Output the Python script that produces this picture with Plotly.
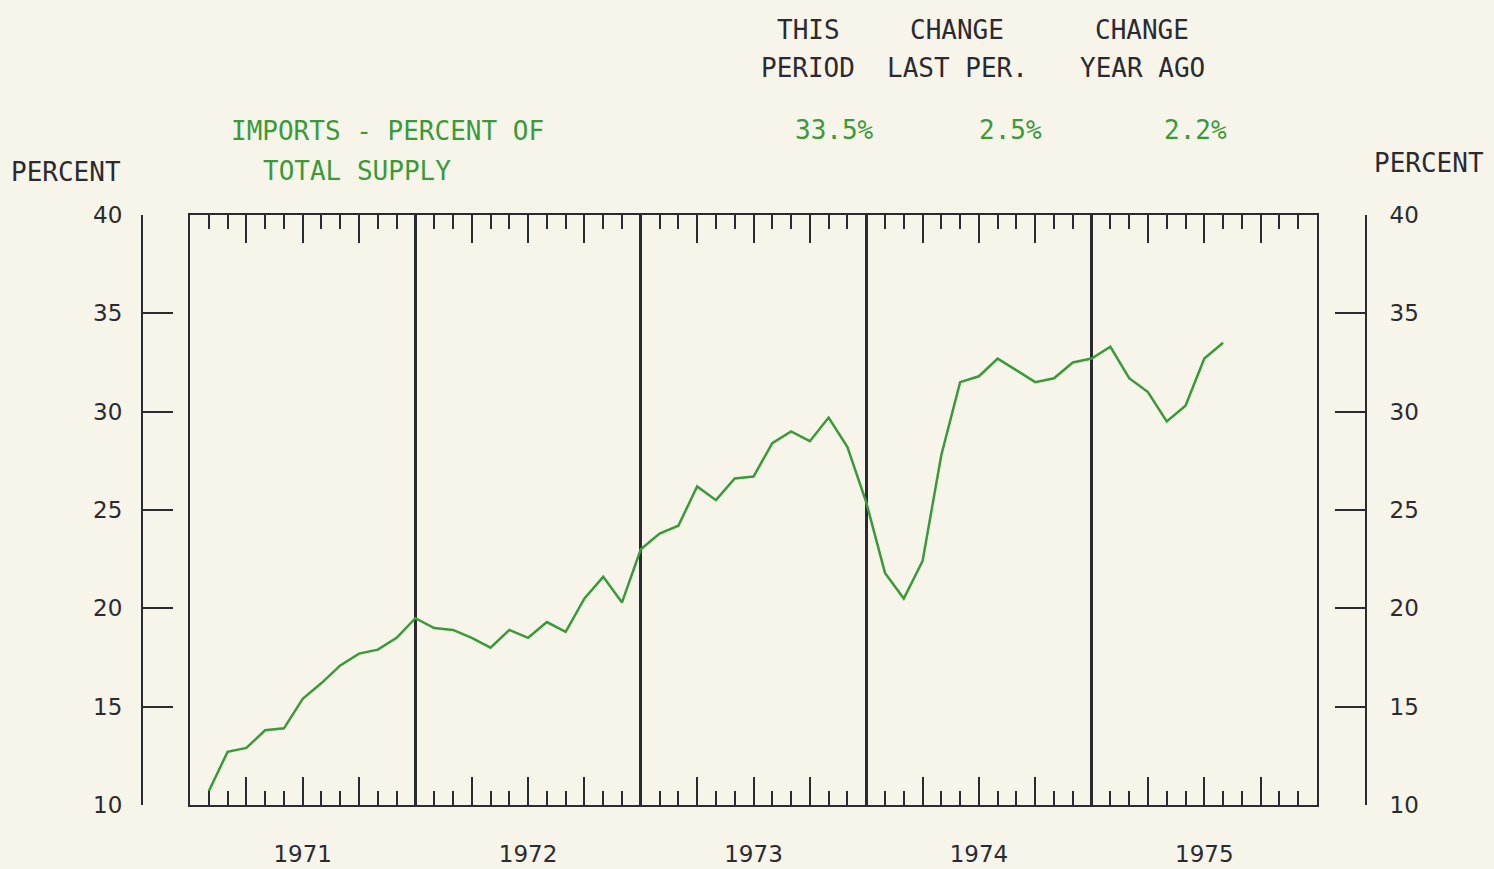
import plotly.graph_objects as go

# monthly imports as percent of total supply, Jan 1971 - Jul 1975
years = ["1971", "1972", "1973", "1974", "1975"]
v1971 = [10.7, 12.7, 12.9, 13.8, 13.9, 15.4, 16.2, 17.1, 17.7, 17.9, 18.5, 19.5]
v1972 = [19.0, 18.9, 18.5, 18.0, 18.9, 18.5, 19.3, 18.8, 20.5, 21.6, 20.3, 23.0]
v1973 = [23.8, 24.2, 26.2, 25.5, 26.6, 26.7, 28.4, 29.0, 28.5, 29.7, 28.2, 25.4]
v1974 = [21.8, 20.5, 22.4, 27.8, 31.5, 31.8, 32.7, 32.1, 31.5, 31.7, 32.5, 32.7]
v1975 = [33.3, 31.7, 31.0, 29.5, 30.3, 32.7, 33.5]

header_top = ["THIS", "CHANGE", "CHANGE"]
header_bot = ["PERIOD", "LAST PER.", "YEAR AGO"]
summary = ["33.5%", "2.5%", "2.2%"]

values = v1971 + v1972 + v1973 + v1974 + v1975
months = list(range(1, len(values) + 1))  # plotted at month end

W, H = 1494, 869
ML, MR, MT, MB = 100, 100, 215, 64
PW, PH = W - ML - MR, H - MT - MB
BG = "#f7f5ea"
INK = "#2b2a30"
GREEN = "#3a9a3a"
MONO = "DejaVu Sans Mono"


def px(x):
    return (x - ML) / PW


def py(y):
    return (H - MB - y) / PH


fig = go.Figure()
fig.add_trace(go.Scatter(x=months, y=values, mode="lines",
                         line=dict(color=GREEN, width=2.5),
                         showlegend=False, hoverinfo="x+y"))

dom = [px(190), px(1317)]
xr = [0, 60]
year_mid = [6 + 12 * i for i in range(len(years))]
num_font = dict(family="DejaVu Sans", size=23, color=INK)

month_ticks = dict(showgrid=False, zeroline=False, showticklabels=False,
                   tickmode="linear", tick0=0, dtick=3, ticks="inside",
                   ticklen=28, tickwidth=2, tickcolor=INK, automargin=False,
                   minor=dict(dtick=1, tick0=0, ticks="inside", ticklen=14,
                              tickwidth=2, tickcolor=INK))

fig.update_layout(
    width=W, height=H,
    margin=dict(l=ML, r=MR, t=MT, b=MB),
    paper_bgcolor=BG, plot_bgcolor=BG,
    xaxis=dict(domain=dom, range=xr, showgrid=False, zeroline=False,
               showline=True, linecolor=INK, linewidth=2, mirror=True,
               tickmode="array", tickvals=year_mid, ticktext=years, ticks="",
               tickfont=num_font, ticklabelstandoff=27, automargin=False),
    xaxis2=dict(overlaying="x", side="top", anchor="y", range=xr, domain=dom,
                **month_ticks),
    xaxis3=dict(overlaying="x", side="bottom", anchor="y", range=xr, domain=dom,
                **month_ticks),
    xaxis4=dict(overlaying="x", anchor="y", range=xr, domain=dom,
                showgrid=True, gridcolor=INK, gridwidth=2.5,
                tickmode="linear", tick0=0, dtick=12, ticks="",
                showticklabels=False, zeroline=False, automargin=False),
    yaxis=dict(range=[10, 40], showgrid=False, zeroline=False,
               showticklabels=False, ticks="", automargin=False,
               showline=True, linecolor=INK, linewidth=2, mirror=True),
    yaxis2=dict(overlaying="y", anchor="free", position=px(142), side="left",
                range=[10, 40], tickmode="linear", tick0=10, dtick=5,
                ticks="inside", ticklen=30, tickwidth=2, tickcolor=INK,
                showline=True, linecolor=INK, linewidth=2, automargin=False,
                showgrid=False, zeroline=False, ticklabelstandoff=14,
                tickfont=num_font),
    yaxis3=dict(overlaying="y", anchor="free", position=px(1366), side="right",
                range=[10, 40], tickmode="linear", tick0=10, dtick=5,
                ticks="inside", ticklen=30, tickwidth=2, tickcolor=INK,
                showline=True, linecolor=INK, linewidth=2, automargin=False,
                showgrid=False, zeroline=False, ticklabelstandoff=18,
                tickfont=num_font),
)

# dummy invisible traces so the overlay axes are drawn
for xa in ["x2", "x3", "x4"]:
    fig.add_trace(go.Scatter(x=[None], y=[None], xaxis=xa, yaxis="y",
                             showlegend=False, hoverinfo="skip"))
for ya in ["y2", "y3"]:
    fig.add_trace(go.Scatter(x=[None], y=[None], xaxis="x", yaxis=ya,
                             showlegend=False, hoverinfo="skip"))


def note(text, x, y, color=INK, size=26, anchor="center"):
    fig.add_annotation(text=text, x=px(x), y=py(y), xref="paper", yref="paper",
                       showarrow=False, xanchor=anchor, yanchor="middle",
                       font=dict(family=MONO, size=size, color=color))


for cx, t, b in zip([808, 957, 1142], header_top, header_bot):
    note(t, cx, 30)
    note(b, cx, 68)
for cx, s in zip([834, 1010, 1195], summary):
    note(s, cx, 130, color=GREEN)

note("IMPORTS - PERCENT OF", 229, 131, color=GREEN, anchor="left")
note("TOTAL SUPPLY", 261, 171, color=GREEN, anchor="left")
note("PERCENT", 9, 172, anchor="left")
note("PERCENT", 1372, 163, anchor="left")

fig.write_html("out.html", config={"displayModeBar": False},
               post_script="document.body.style.margin='0';")
